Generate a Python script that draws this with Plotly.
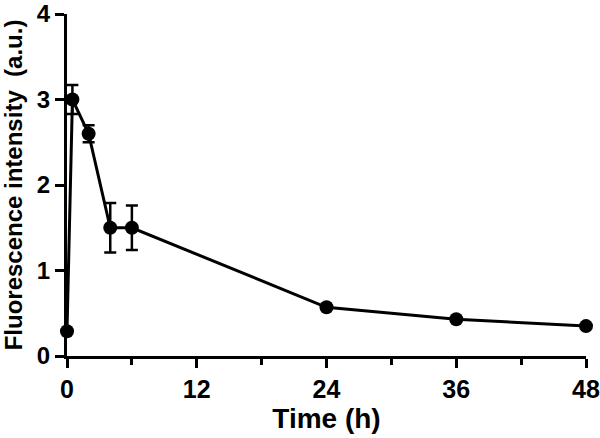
import plotly.graph_objects as go

time_h = [0, 0.5, 2, 4, 6, 24, 36, 48]
intensity = [0.29, 3.0, 2.6, 1.5, 1.5, 0.57, 0.43, 0.35]
err = [0.0, 0.17, 0.1, 0.29, 0.26, 0.0, 0.0, 0.0]

x_ticks = [0, 12, 24, 36, 48]
y_ticks = [0, 1, 2, 3, 4]

font_family = "Liberation Sans, Arial, sans-serif"

fig = go.Figure()
fig.add_trace(go.Scatter(
    x=time_h, y=intensity,
    mode="lines+markers",
    line=dict(color="black", width=3),
    marker=dict(color="black", size=14),
    error_y=dict(type="data", array=err, color="black", thickness=2.5, width=6, visible=True),
    cliponaxis=False,
    showlegend=False,
))

fig.update_layout(
    width=600, height=438,
    margin=dict(l=67, r=14, t=14, b=82),
    plot_bgcolor="white", paper_bgcolor="white",
    font=dict(family=font_family, color="black", size=20, weight="bold"),
)
fig.update_xaxes(
    range=[0, 48], tickvals=x_ticks, ticktext=[str(v) for v in x_ticks],
    automargin=False, ticklabeloverflow="allow",
    showgrid=False, zeroline=False,
    showline=True, linecolor="black", linewidth=3,
    ticks="outside", ticklen=9, tickwidth=3, tickcolor="black",
    tickfont=dict(size=25, family=font_family, weight="bold"),
    minor=dict(ticks="outside", dtick=6, ticklen=6, tickwidth=3, tickcolor="black", showgrid=False),
    title=dict(text="Time (h)", font=dict(size=28, family=font_family, weight="bold"), standoff=0),
)
fig.update_yaxes(
    range=[0, 4], tickvals=y_ticks,
    automargin=False, ticklabeloverflow="allow",
    showgrid=False, zeroline=False,
    showline=True, linecolor="black", linewidth=3,
    ticks="outside", ticklen=9, tickwidth=3, tickcolor="black",
    tickfont=dict(size=24, family=font_family, weight="bold"),
    title=dict(text="Fluorescence intensity  (a.u.)", font=dict(size=24, family=font_family, weight="bold"), standoff=8),
)

fig.write_html("out.html", config={"displayModeBar": False},
               post_script="document.body.style.margin='0';document.body.style.padding='0';")
